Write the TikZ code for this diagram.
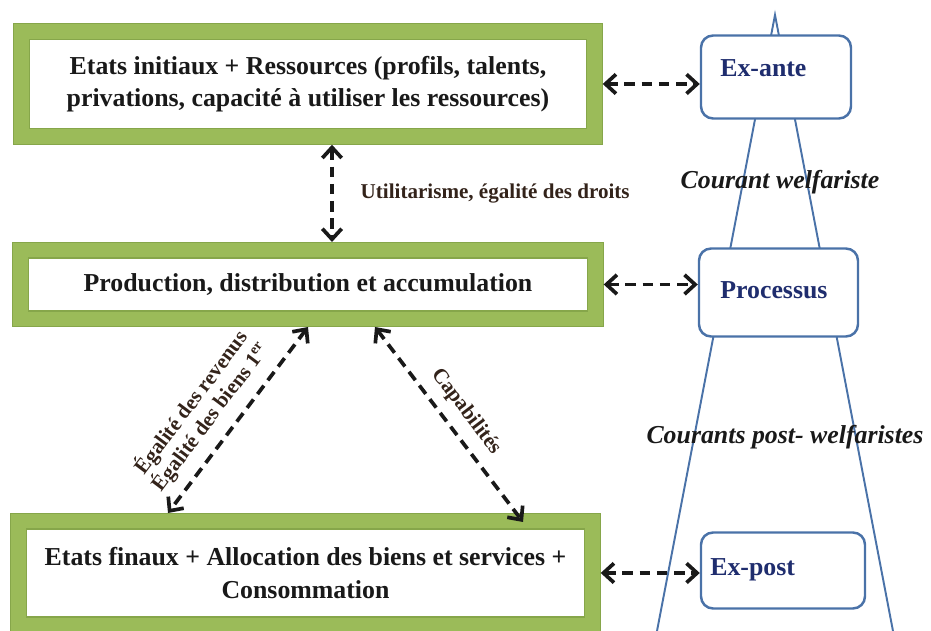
\documentclass[tikz,border=0pt]{standalone}
\usepackage{fontspec}
\setmainfont{Liberation Serif}
\usepackage{tikz}
\usetikzlibrary{calc}
\usetikzlibrary{arrows.meta}

\definecolor{cadregreen}{HTML}{9BBB59}
\definecolor{cadreedge}{HTML}{86A64A}
\definecolor{tribleu}{HTML}{4A72A8}
\definecolor{navy}{HTML}{1F2D6E}
\definecolor{brun}{HTML}{33231A}

\begin{document}
\begin{tikzpicture} [x=0.02cm, y=-0.02cm,
  cadre/.style={draw=cadreedge, line width=0.6pt, double=cadregreen, double distance=8.2pt, fill=white, outer sep=4.7pt, inner sep=0pt, align=center, font=\fontsize{14.7}{18.5}\selectfont\bfseries, text=black!90},
  bulle/.style={draw=tribleu, line width=1.4pt, rounded corners=0.24cm, fill=white, inner sep=0pt},
  bulletxt/.style={anchor=base west, inner sep=0pt, font=\fontsize{14.7}{17}\selectfont\bfseries, text=navy},
  courant/.style={font=\fontsize{14.7}{17}\selectfont\bfseries\itshape, text=black!90},
  lien/.style={{Straight Barb[length=6pt,width=11pt]}-{Straight Barb[length=6pt,width=11pt]}, line width=2.1pt, dash pattern=on 6pt off 3.8pt, black!90},
  etiq/.style={font=\fontsize{12}{13.5}\selectfont\bfseries, text=brun, align=center}]
\useasboundingbox (0,0) rectangle (931,631);

\draw[tribleu, line width=1.1pt] (657,631) -- (775,15) -- (893,631);

\node[cadre, minimum width=11.46cm, minimum height=2.1cm] (etats) at (308,84) {Etats initiaux + Ressources (profils, talents,\\privations, capacité à utiliser les ressources)};
\node[cadre, minimum width=11.5cm, minimum height=1.37cm] (production) at (308,284.5) {Production, distribution et accumulation};
\node[cadre, minimum width=11.48cm, minimum height=2.07cm] (finaux) at (305.5,573) {Etats finaux + Allocation des biens et services +\\Consommation};

\node[bulle, minimum width=3.0cm, minimum height=1.66cm] (exante) at (776,77) {};
\node[bulle, minimum width=3.18cm, minimum height=1.76cm] (processus) at (778.5,292.5) {};
\node[bulle, minimum width=3.28cm, minimum height=1.52cm] (expost) at (783,570.5) {};
\node[bulletxt] (exantetxt) at (720,76.5) {Ex-ante};
\node[bulletxt] (processustxt) at (720,298.5) {Processus};
\node[bulletxt] (exposttxt) at (710,575.5) {Ex-post};

\node[courant] (welf) at (780,182) {Courant welfariste};
\node[courant] (postwelf) at (785,437) {Courants post- welfaristes};

\draw[lien] (etats.east) -- (etats.east -| exante.west);
\draw[lien] (production.east) -- (production.east -| processus.west);
\draw[lien] (finaux.east) -- (finaux.east -| expost.west);

\draw[lien] ($(etats.south)+(24,0)$) -- ($(production.north)+(24,0)$) node[midway, right=0.42cm, etiq] {Utilitarisme, égalité des droits};
\draw[lien] (production.south) -- ($(finaux.north)+(-137.5,0)$) node[pos=0.56, sloped, above=0.1cm, etiq] {Égalité des revenus\\Égalité des biens 1\textsuperscript{er}};
\draw[lien] ($(production.south)+(67,0)$) -- ($(finaux.north)+(217.5,9)$) node[midway, sloped, above=0.08cm, etiq] {Capabilités};

\end{tikzpicture}
\end{document}
